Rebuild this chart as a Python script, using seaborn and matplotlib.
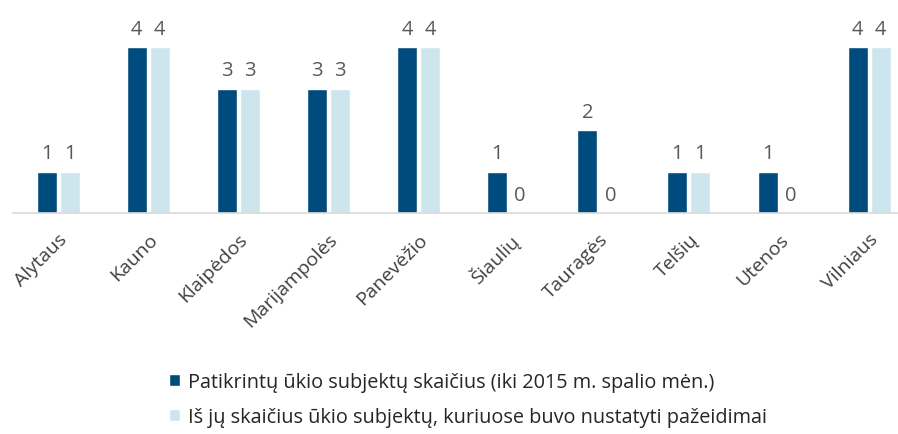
import matplotlib
matplotlib.use("Agg")
import matplotlib.pyplot as plt
import pandas as pd
import seaborn as sns

regions = ["Alytaus", "Kauno", "Klaipėdos", "Marijampolės", "Panevėžio",
           "Šiaulių", "Tauragės", "Telšių", "Utenos", "Vilniaus"]
checked = [1, 4, 3, 3, 4, 1, 2, 1, 1, 4]
violations = [1, 4, 3, 3, 4, 0, 0, 1, 0, 4]
series_names = ["Patikrintų ūkio subjektų skaičius (iki 2015 m. spalio mėn.)",
                "Iš jų skaičius ūkio subjektų, kuriuose buvo nustatyti pažeidimai"]
colors = ["#004b7d", "#cde6ee"]

df = pd.DataFrame({
    "region": regions * 2,
    "value": checked + violations,
    "series": [series_names[0]] * len(regions) + [series_names[1]] * len(regions),
})

sns.set_theme(style="white")
plt.rcParams["font.family"] = ["Open Sans", "DejaVu Sans"]
text_col = "#404040"

fig = plt.figure(figsize=(8.98, 4.35), dpi=100)
ax = fig.add_axes([13 / 898, 1 - 214 / 435, 885 / 898, 207 / 435])

sns.barplot(data=df, x="region", y="value", hue="series", palette=colors,
            width=0.51, gap=0.13, saturation=1, ax=ax, legend=True)

for cont in ax.containers:
    ax.bar_label(cont, padding=6, fontsize=14.5, color="#595959")

ax.set_xlim(-0.5, 9.32)
ax.set_ylim(0, 5)
ax.set_xlabel("")
ax.set_ylabel("")
ax.set_yticks([])
ax.tick_params(axis="x", length=0, pad=12)
plt.setp(ax.get_xticklabels(), rotation=45, ha="right", rotation_mode="anchor",
         fontsize=14, color=text_col)
for s in ["top", "right", "left"]:
    ax.spines[s].set_visible(False)
ax.spines["bottom"].set_color("#d9d9d9")
ax.spines["bottom"].set_linewidth(1.2)

handles, labels = ax.get_legend_handles_labels()
ax.get_legend().remove()
fig.legend(handles, labels, loc="upper left", bbox_to_anchor=(151 / 898, 1 - 355 / 435),
           frameon=False, fontsize=14.3, handlelength=0.55, handleheight=0.55,
           handletextpad=0.4, labelspacing=0.75, labelcolor="#262626")

fig.savefig("out.png", dpi=100)
